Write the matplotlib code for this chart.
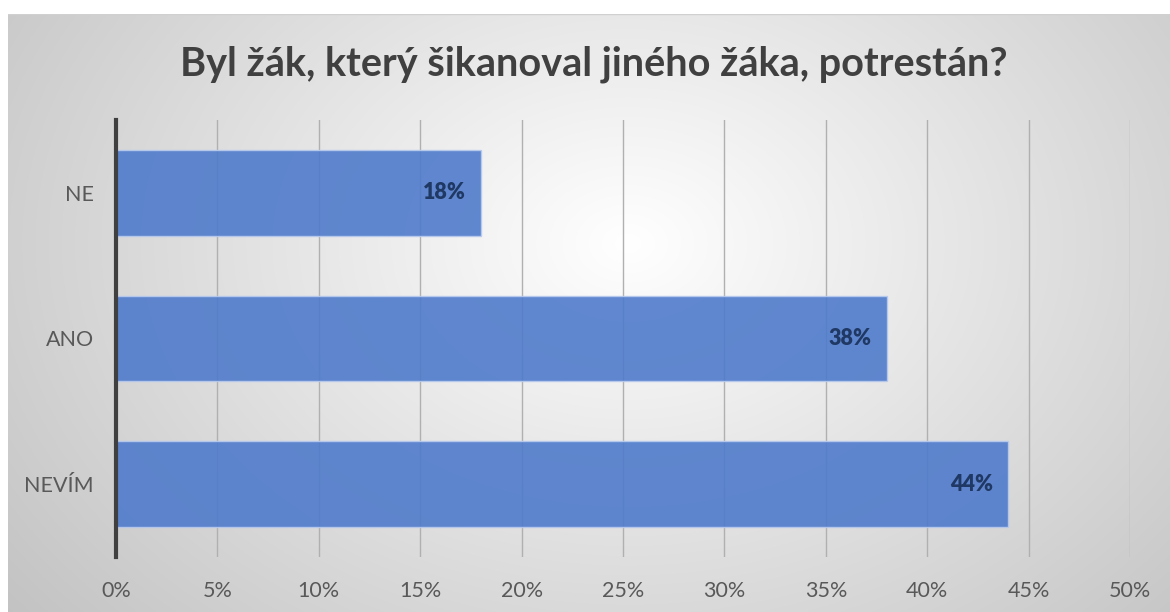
import numpy as np
import matplotlib.pyplot as plt
from matplotlib.ticker import PercentFormatter

categories = ["NEVÍM", "ANO", "NE"]
values = [44, 38, 18]
xticks = [0, 5, 10, 15, 20, 25, 30, 35, 40, 45, 50]
title = "Byl žák, který šikanoval jiného žáka, potrestán?"

W, H = 1170, 612
fig = plt.figure(figsize=(W / 100, H / 100), dpi=100)
fig.patch.set_facecolor("white")

# background radial gradient panel
bg = fig.add_axes([8 / W, 0, (W - 8) / W, (H - 14) / H])
bg.set_axis_off()
yy, xx = np.mgrid[0:600, 0:1162]
cx, cy = 620, 230
r = np.sqrt(((xx - cx) / 700.0) ** 2 + ((yy - cy) / 520.0) ** 2)
v = 1.0 - 0.25 * np.clip(r, 0, 1.2) / 1.2
bg.imshow(np.dstack([v, v, v]), aspect="auto", extent=[0, 1, 0, 1], origin="upper")
bg.set_xlim(0, 1); bg.set_ylim(0, 1)
bg.plot([0, 1], [1, 1], color="#d0d0d0", lw=1)

ax = fig.add_axes([116 / W, (H - 557) / H, (1130 - 116) / W, (557 - 120) / H])
ax.patch.set_alpha(0)
y = np.arange(len(categories))
bars = ax.barh(y, values, height=0.59, color="#4f7bcb", alpha=0.9,
               edgecolor="#b8cbee", linewidth=1, zorder=2)
ax.set_xlim(0, 50)
ax.set_ylim(-0.5, len(categories) - 0.5)
ax.set_xticks(xticks)
ax.xaxis.set_major_formatter(PercentFormatter(decimals=0))
ax.set_yticks(y)
ax.set_yticklabels(categories)
ax.grid(axis="x", color="#b0b0b0", lw=1, zorder=1)
ax.set_axisbelow(True)
for s in ["top", "right", "bottom"]:
    ax.spines[s].set_visible(False)
ax.spines["left"].set_color("#404040")
ax.spines["left"].set_linewidth(3)
ax.spines["left"].set_zorder(5)
ax.tick_params(axis="both", length=0, colors="#595959", labelsize=15.5,
               labelfontfamily="Lato")
ax.tick_params(axis="x", pad=17)
ax.tick_params(axis="y", pad=16)

for b, val in zip(bars, values):
    ax.annotate(f"{val}%", (b.get_width(), b.get_y() + b.get_height() / 2),
                xytext=(-11, 0), textcoords="offset points", ha="right",
                va="center", color="#1f3864", fontsize=15.5,
                fontweight="heavy", family="Lato", zorder=6)

fig.text(594 / W, 1 - 64 / H, title, ha="center", va="center",
         fontsize=28.5, fontweight="bold", color="#404040", family="Lato")

fig.savefig("out.png", dpi=100)
